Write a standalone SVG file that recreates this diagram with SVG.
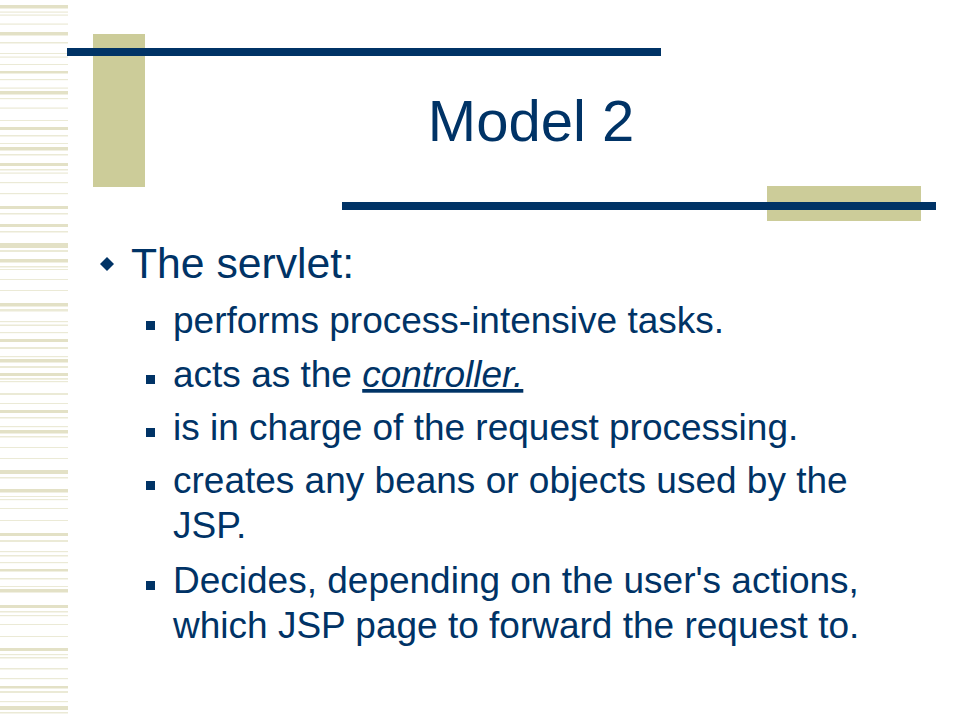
<svg xmlns="http://www.w3.org/2000/svg" width="960" height="720" viewBox="0 0 960 720">
<style>
.bg{fill:#ffffff}
.sk{fill:#e3e1c6}
.sn{fill:#ebead6}
.tan{fill:#cccc99}
.navy{fill:#003366}
.t{font-family:"Liberation Sans",Arial,sans-serif;fill:#003366}
.title{font-size:58px}
.l1{font-size:42.7px}
.l2{font-size:37px}
</style>
<rect class="bg" x="0" y="0" width="960" height="720"/>
<g id="stripes">
<rect class="sk" x="0" y="5" width="68" height="3.5"/>
<rect class="sn" x="0" y="11.5" width="68" height="1.2"/>
<rect class="sn" x="0" y="14.5" width="68" height="1.2"/>
<rect class="sn" x="0" y="23.5" width="68" height="1.2"/>
<rect class="sk" x="0" y="32" width="68" height="3.5"/>
<rect class="sn" x="0" y="42" width="68" height="1.5"/>
<rect class="sn" x="0" y="53" width="68" height="1"/>
<rect class="sn" x="0" y="56.5" width="68" height="1.2"/>
<rect class="sn" x="0" y="64" width="68" height="1"/>
<rect class="sk" x="0" y="71" width="68" height="2.5"/>
<rect class="sn" x="0" y="79" width="68" height="1.2"/>
<rect class="sn" x="0" y="87.5" width="68" height="1.2"/>
<rect class="sk" x="0" y="91" width="68" height="3.5"/>
<rect class="sn" x="0" y="98" width="68" height="1.2"/>
<rect class="sn" x="0" y="107.5" width="68" height="1.2"/>
<rect class="sn" x="0" y="120" width="68" height="1"/>
<rect class="sk" x="0" y="127" width="68" height="3"/>
<rect class="sn" x="0" y="135" width="68" height="1.5"/>
<rect class="sn" x="0" y="143" width="68" height="1"/>
<rect class="sk" x="0" y="147" width="68" height="3.5"/>
<rect class="sn" x="0" y="154" width="68" height="1.5"/>
<rect class="sk" x="0" y="163" width="68" height="3"/>
<rect class="sn" x="0" y="169" width="68" height="1.5"/>
<rect class="sn" x="0" y="172.5" width="68" height="1.2"/>
<rect class="sn" x="0" y="182" width="68" height="1.2"/>
<rect class="sn" x="0" y="193" width="68" height="1.2"/>
<rect class="sk" x="0" y="206" width="68" height="3"/>
<rect class="sn" x="0" y="213" width="68" height="1.5"/>
<rect class="sk" x="0" y="224" width="68" height="3"/>
<rect class="sn" x="0" y="231" width="68" height="1.5"/>
<rect class="sk" x="0" y="243" width="68" height="5"/>
<rect class="sn" x="0" y="250" width="68" height="2"/>
<rect class="sk" x="0" y="259" width="68" height="3.5"/>
<rect class="sn" x="0" y="266" width="68" height="1.5"/>
<rect class="sn" x="0" y="269" width="68" height="1"/>
<rect class="sn" x="0" y="279" width="68" height="1"/>
<rect class="sn" x="0" y="290" width="68" height="1"/>
<rect class="sk" x="0" y="303" width="68" height="3.5"/>
<rect class="sn" x="0" y="309" width="68" height="2.5"/>
<rect class="sn" x="0" y="321" width="68" height="1.2"/>
<rect class="sn" x="0" y="324.5" width="68" height="1.5"/>
<rect class="sn" x="0" y="332" width="68" height="1.2"/>
<rect class="sk" x="0" y="339" width="68" height="3"/>
<rect class="sn" x="0" y="347" width="68" height="2"/>
<rect class="sn" x="0" y="356" width="68" height="1.2"/>
<rect class="sk" x="0" y="359" width="68" height="3.5"/>
<rect class="sn" x="0" y="366" width="68" height="2"/>
<rect class="sk" x="0" y="373" width="68" height="3"/>
<rect class="sn" x="0" y="378" width="68" height="1.8"/>
<rect class="sn" x="0" y="381" width="68" height="1.2"/>
<rect class="sn" x="0" y="393" width="68" height="2"/>
<rect class="sn" x="0" y="403" width="68" height="1"/>
<rect class="sk" x="0" y="410" width="68" height="3"/>
<rect class="sn" x="0" y="417" width="68" height="1.5"/>
<rect class="sn" x="0" y="426" width="68" height="1.2"/>
<rect class="sk" x="0" y="430" width="68" height="3.5"/>
<rect class="sn" x="0" y="436" width="68" height="1.5"/>
<rect class="sn" x="0" y="447" width="68" height="1"/>
<rect class="sn" x="0" y="458" width="68" height="1"/>
<rect class="sk" x="0" y="470" width="68" height="4"/>
<rect class="sn" x="0" y="477" width="68" height="1.5"/>
<rect class="sk" x="0" y="489" width="68" height="3.5"/>
<rect class="sn" x="0" y="496" width="68" height="1"/>
<rect class="sn" x="0" y="499" width="68" height="1.2"/>
<rect class="sn" x="0" y="508" width="68" height="1"/>
<rect class="sn" x="0" y="520" width="68" height="1"/>
<rect class="sk" x="0" y="533" width="68" height="3"/>
<rect class="sn" x="0" y="540" width="68" height="2"/>
<rect class="sn" x="0" y="551" width="68" height="1.2"/>
<rect class="sn" x="0" y="555" width="68" height="1.5"/>
<rect class="sn" x="0" y="562" width="68" height="1.2"/>
<rect class="sk" x="0" y="569" width="68" height="2.5"/>
<rect class="sn" x="0" y="578" width="68" height="1.5"/>
<rect class="sn" x="0" y="586" width="68" height="1"/>
<rect class="sk" x="0" y="589" width="68" height="3.5"/>
<rect class="sk" x="0" y="605" width="68" height="3"/>
<rect class="sn" x="0" y="611" width="68" height="1.5"/>
<rect class="sn" x="0" y="615" width="68" height="1.2"/>
<rect class="sn" x="0" y="624" width="68" height="1"/>
<rect class="sn" x="0" y="636" width="68" height="1"/>
<rect class="sk" x="0" y="648" width="68" height="3"/>
<rect class="sn" x="0" y="654" width="68" height="1.2"/>
<rect class="sn" x="0" y="657" width="68" height="1.5"/>
<rect class="sn" x="0" y="668" width="68" height="1.5"/>
<rect class="sn" x="0" y="678" width="68" height="1.2"/>
<rect class="sk" x="0" y="686" width="68" height="2.5"/>
<rect class="sn" x="0" y="691" width="68" height="2"/>
<rect class="sn" x="0" y="701" width="68" height="1.2"/>
<rect class="sk" x="0" y="706" width="68" height="4"/>
<rect class="sn" x="0" y="712" width="68" height="1.5"/>
</g>
<g id="decor">
<rect class="tan" x="93" y="34" width="52" height="153"/>
<rect class="navy" x="67" y="48" width="594" height="8"/>
<rect class="tan" x="767" y="186" width="154" height="35"/>
<rect class="navy" x="342" y="202" width="594" height="8"/>
</g>
<g id="title">
<text class="t title" x="531" y="141" text-anchor="middle">Model 2</text>
</g>
<g id="body">
<path class="navy" d="M107 257 L114 264 L107 271 L100 264 Z"/>
<text class="t l1" x="131" y="278">The servlet:</text>
<rect class="navy" x="146" y="321" width="9" height="9"/>
<text class="t l2" x="173" y="333">performs process-intensive tasks.</text>
<rect class="navy" x="146" y="375" width="9" height="9"/>
<text class="t l2" x="173" y="387">acts as the <tspan font-style="italic" text-decoration="underline">controller.</tspan></text>
<rect class="navy" x="146" y="428" width="9" height="9"/>
<text class="t l2" x="173" y="440">is in charge of the request processing.</text>
<rect class="navy" x="146" y="481" width="9" height="9"/>
<text class="t l2" x="173" y="493">creates any beans or objects used by the</text>
<text class="t l2" x="173" y="538">JSP.</text>
<rect class="navy" x="146" y="581" width="9" height="9"/>
<text class="t l2" x="173" y="593">Decides, depending on the user's actions,</text>
<text class="t l2" x="173" y="638">which JSP page to forward the request to.</text>
</g>
</svg>
